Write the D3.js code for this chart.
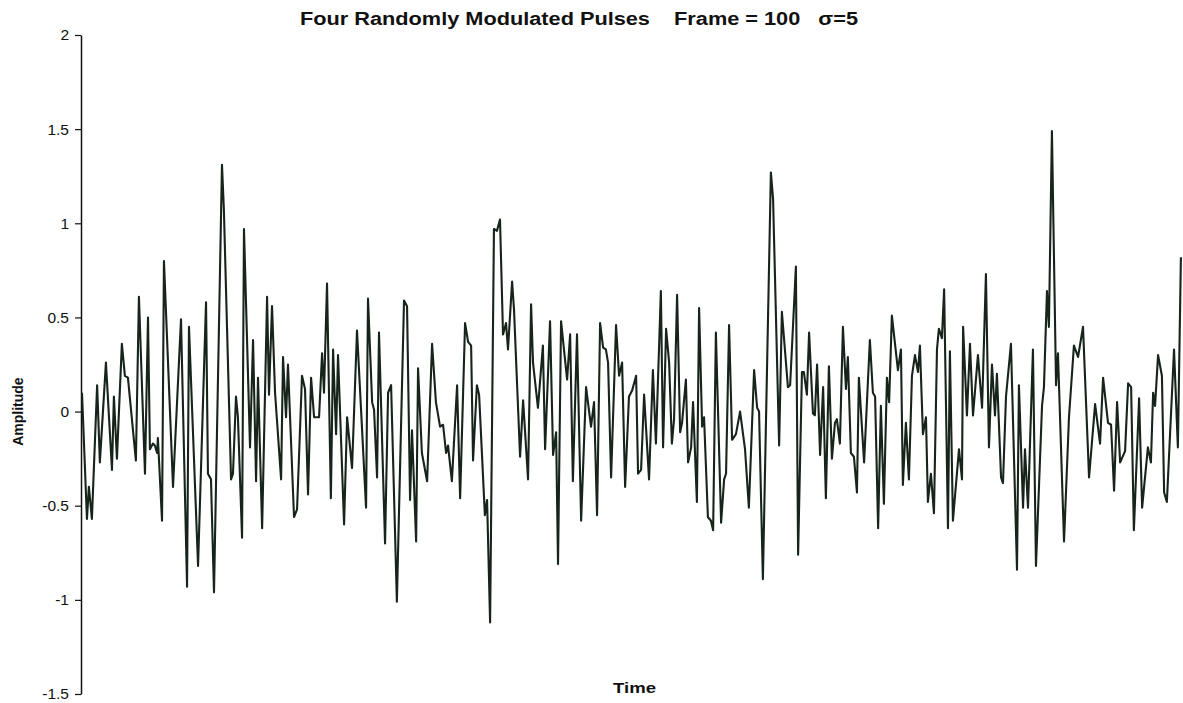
<!DOCTYPE html>
<html>
<head>
<meta charset="utf-8">
<script src="https://cdn.jsdelivr.net/npm/d3@7"></script>
<style>
  body { margin: 0; background: #ffffff; }
  svg text { font-family: "Liberation Sans", Arial, sans-serif; fill: #111; }
</style>
</head>
<body>
<div id="chart"></div>
<script>
// Sample times (arbitrary units) of the turning points
var times = [
  0, 1.8, 2.5, 3.6, 5.5, 6.5, 8.7, 10.9, 11.6, 12.7, 14.5, 15.6, 16.7, 19.6, 20.7, 22.9,
  24.0, 24.7, 25.8, 26.5, 27.3, 27.6, 29.1, 29.8, 33.1, 36.0, 38.2, 38.9, 42.2, 45.1, 45.8,
  46.9, 48.0, 50.9, 51.6, 54.2, 54.9, 56.0, 56.7, 58.2, 58.9, 61.1, 62.2, 63.3, 64.0, 65.5,
  67.3, 68.0, 69.1, 70.2, 72.4, 73.1, 74.2, 74.9, 77.1, 78.2, 80.0, 81.1, 82.2, 83.3, 84.4,
  86.2, 87.3, 88.0, 89.1, 90.5, 91.3, 92.4, 93.1, 95.3, 96.4, 98.2, 100.0, 103.3, 104.0,
  105.5, 106.2, 107.3, 108.0, 110.2, 111.3, 112.4, 114.5, 117.1, 118.2, 119.3, 120.0, 121.5,
  122.2, 123.6, 125.5, 127.3, 128.7, 130.2, 131.3, 132.4, 133.1, 134.5, 136.4, 137.5, 139.3,
  140.4, 141.5, 142.2, 143.6, 144.4, 146.5, 147.3, 148.4, 149.8, 150.9, 152.0, 153.1, 154.2,
  154.9, 156.4, 157.1, 159.3, 160.4, 162.2, 163.3, 164.0, 165.8, 167.6, 168.4, 170.2, 171.3,
  172.4, 173.1, 174.2, 176.4, 177.5, 178.5, 180.0, 181.5, 183.3, 185.1, 186.2, 187.3, 188.4,
  189.5, 190.5, 191.3, 192.4, 194.2, 195.3, 196.4, 197.5, 198.9, 200.0, 201.5, 202.2, 203.3,
  204.4, 206.2, 207.6, 208.7, 210.5, 211.3, 212.4, 213.5, 214.5, 215.3, 216.4, 217.5, 218.2,
  219.6, 220.4, 221.5, 222.2, 223.6, 224.4, 225.5, 226.2, 227.6, 228.7, 229.5, 230.5, 232.4,
  233.5, 234.2, 235.3, 236.4, 237.8, 239.3, 241.1, 242.5, 244.4, 245.5, 246.2, 247.6, 250.5,
  251.3, 253.5, 254.5, 256.7, 257.5, 259.6, 260.4, 261.8, 262.5, 263.6, 264.4, 265.8, 266.5,
  267.3, 268.4, 269.5, 270.5, 271.6, 272.7, 273.8, 274.5, 275.6, 276.7, 277.8, 278.5, 279.6,
  280.7, 281.8, 282.5, 284.4, 286.5, 287.6, 288.4, 289.5, 290.5, 291.6, 292.7, 293.5, 294.5,
  296.7, 297.8, 298.5, 299.6, 300.7, 301.8, 302.9, 304.0, 304.7, 305.8, 306.9, 307.6, 308.7,
  309.8, 310.9, 311.6, 312.7, 313.5, 314.9, 315.6, 316.7, 318.9, 320.0, 320.4, 321.8, 322.9,
  324.0, 325.8, 327.3, 328.7, 329.8, 330.9, 332.0, 332.7, 334.2, 334.9, 336.0, 337.8, 340.0,
  340.7, 342.2, 342.9, 344.0, 345.8, 346.9, 349.1, 349.8, 350.9, 351.6, 352.7, 354.2, 354.9,
  357.1, 358.9, 360.7, 362.2, 364.0, 366.2, 368.4, 370.2, 371.3, 373.1, 374.2, 375.3, 376.4,
  377.5, 379.3, 380.4, 381.5, 382.5, 384.4, 385.5, 387.6, 388.7, 389.5, 390.2, 391.3, 392.7,
  393.5, 394.5, 397.1, 398.5, 399.6
];

// Amplitude at each of those times
var amplitude = [
  0.10, -0.57, -0.40, -0.57, 0.14, -0.27, 0.26, -0.31, 0.08, -0.25, 0.36, 0.19, 0.18, -0.26, 0.61, -0.33,
  0.50, -0.20, -0.17, -0.18, -0.22, -0.14, -0.58, 0.80, -0.40, 0.49, -0.93, 0.45, -0.82, 0.58, -0.33,
  -0.36, -0.96, 1.31, 1.07, -0.36, -0.33, 0.08, -0.03, -0.67, 0.97, -0.19, 0.38, -0.37, 0.18, -0.62,
  0.61, 0.09, 0.56, 0.10, -0.36, 0.29, -0.03, 0.25, -0.56, -0.52, 0.19, 0.12, -0.44, 0.18, -0.03,
  -0.03, 0.31, 0.10, 0.68, -0.46, 0.33, -0.12, 0.30, -0.60, -0.03, -0.30, 0.43, -0.51, 0.60,
  0.05, 0.01, -0.35, 0.42, -0.70, 0.10, 0.14, -1.01, 0.59, 0.56, -0.47, -0.10, -0.69,
  0.23, -0.22, -0.37, 0.36, 0.05, -0.08, -0.07, -0.22, -0.18, -0.37, 0.14, -0.46, 0.47,
  0.37, 0.35, -0.26, 0.14, 0.09, -0.55, -0.47, -1.12, 0.97, 0.96, 1.02, 0.41, 0.47,
  0.33, 0.69, 0.54, -0.24, 0.06, -0.36, 0.57, 0.26, 0.02, 0.35, -0.20, 0.48, -0.23,
  -0.11, -0.81, 0.48, 0.17, 0.41, -0.37, 0.41, -0.58, 0.13, -0.08, 0.05, -0.55, 0.47,
  0.34, 0.33, 0.26, -0.35, 0.46, 0.19, 0.26, -0.40, 0.08, 0.11, 0.19, -0.33, -0.31,
  0.09, -0.36, 0.22, -0.17, 0.64, -0.19, 0.44, 0.26, -0.17, -0.04, 0.62, -0.11, -0.06,
  0.17, -0.27, -0.19, 0.05, -0.48, 0.55, -0.08, -0.03, -0.56, -0.58, -0.63, 0.42, -0.59,
  -0.36, -0.33, 0.46, -0.15, -0.12, 0.00, -0.20, -0.51, 0.22, 0.02, 0.00, -0.89, 1.27,
  1.13, -0.18, 0.53, 0.13, 0.14, 0.77, -0.76, 0.21, 0.21, 0.09, 0.42, -0.01, -0.02,
  0.25, -0.23, 0.13, -0.46, 0.24, -0.25, -0.06, -0.04, -0.17, 0.45, 0.12, 0.29, -0.22,
  -0.24, -0.43, 0.18, -0.27, 0.38, 0.10, 0.08, -0.62, 0.03, -0.49, 0.18, 0.05, 0.51,
  0.22, 0.33, -0.39, -0.06, -0.36, 0.19, 0.30, 0.21, 0.35, -0.12, -0.03, -0.48, -0.33,
  -0.54, 0.33, 0.44, 0.39, 0.65, -0.62, 0.32, -0.58, -0.20, -0.36, 0.45, -0.02, 0.36,
  -0.02, 0.30, 0.02, 0.73, -0.19, 0.25, -0.02, 0.20, -0.35, -0.38, 0.08, 0.36, -0.84,
  0.14, -0.51, -0.20, -0.51, 0.33, -0.82, 0.03, 0.13, 0.64, 0.45, 1.49, 0.14, 0.31,
  -0.69, -0.03, 0.35, 0.29, 0.45, -0.35, 0.04, -0.17, 0.18, -0.06, -0.07, -0.42, 0.05,
  -0.27, -0.21, 0.15, 0.13, -0.63, 0.07, -0.51, -0.19, -0.27, 0.10, 0.03, 0.30, 0.19,
  -0.43, -0.48, 0.33, -0.19, 0.82
];

var yTicks = [2, 1.5, 1, 0.5, 0, -0.5, -1, -1.5];
var timeDomain = [0, 400];
var ampDomain = [-1.5, 2];

var chartTitle = "Four Randomly Modulated Pulses    Frame = 100   \u03c3=5";
var xLabel = "Time";
var yLabel = "Amplitude";

var width = 1183, height = 703;
var margin = { top: 35, right: 1, bottom: 9, left: 81 };

var svg = d3.select("#chart")
  .append("svg")
  .attr("width", width)
  .attr("height", height);

svg.append("rect")
  .attr("width", width)
  .attr("height", height)
  .attr("fill", "#ffffff");

var xScale = d3.scaleLinear()
  .domain(timeDomain)
  .range([margin.left + 1, width - margin.right]);

var yScale = d3.scaleLinear()
  .domain(ampDomain)
  .range([height - margin.bottom, margin.top]);

// Y axis
var yAxis = svg.append("g")
  .attr("transform", "translate(" + margin.left + ",0)")
  .call(d3.axisLeft(yScale)
    .tickValues(yTicks)
    .tickSize(6)
    .tickPadding(6)
    .tickSizeOuter(0)
    .tickFormat(function (d) { return String(d); }));

yAxis.select(".domain").attr("stroke", "#111").attr("stroke-width", 1.5);
yAxis.selectAll(".tick line").attr("stroke", "#111").attr("stroke-width", 1.2);
yAxis.selectAll(".tick text")
  .attr("fill", "#111")
  .style("font-size", "15.5px");

// Signal trace
var points = times.map(function (t, i) {
  return { t: t, v: amplitude[i] };
});

var line = d3.line()
  .x(function (d) { return xScale(d.t); })
  .y(function (d) { return yScale(d.v); });

svg.append("path")
  .datum(points)
  .attr("fill", "none")
  .attr("stroke", "#16241a")
  .attr("stroke-width", 2.1)
  .attr("stroke-linejoin", "round")
  .attr("d", line);

// Title (the scan is a little wider than tall, so stretch the text)
svg.append("text")
  .attr("x", 300)
  .attr("y", 25)
  .attr("textLength", 558)
  .attr("lengthAdjust", "spacingAndGlyphs")
  .style("font-size", "18px")
  .style("font-weight", "bold")
  .style("white-space", "pre")
  .text(chartTitle);

svg.append("text")
  .attr("x", 613)
  .attr("y", 693)
  .attr("textLength", 43)
  .attr("lengthAdjust", "spacingAndGlyphs")
  .style("font-size", "15px")
  .style("font-weight", "bold")
  .text(xLabel);

svg.append("text")
  .attr("transform", "translate(23," + yScale(0) + ") rotate(-90)")
  .attr("text-anchor", "middle")
  .style("font-size", "14px")
  .style("font-weight", "bold")
  .text(yLabel);
</script>
</body>
</html>
